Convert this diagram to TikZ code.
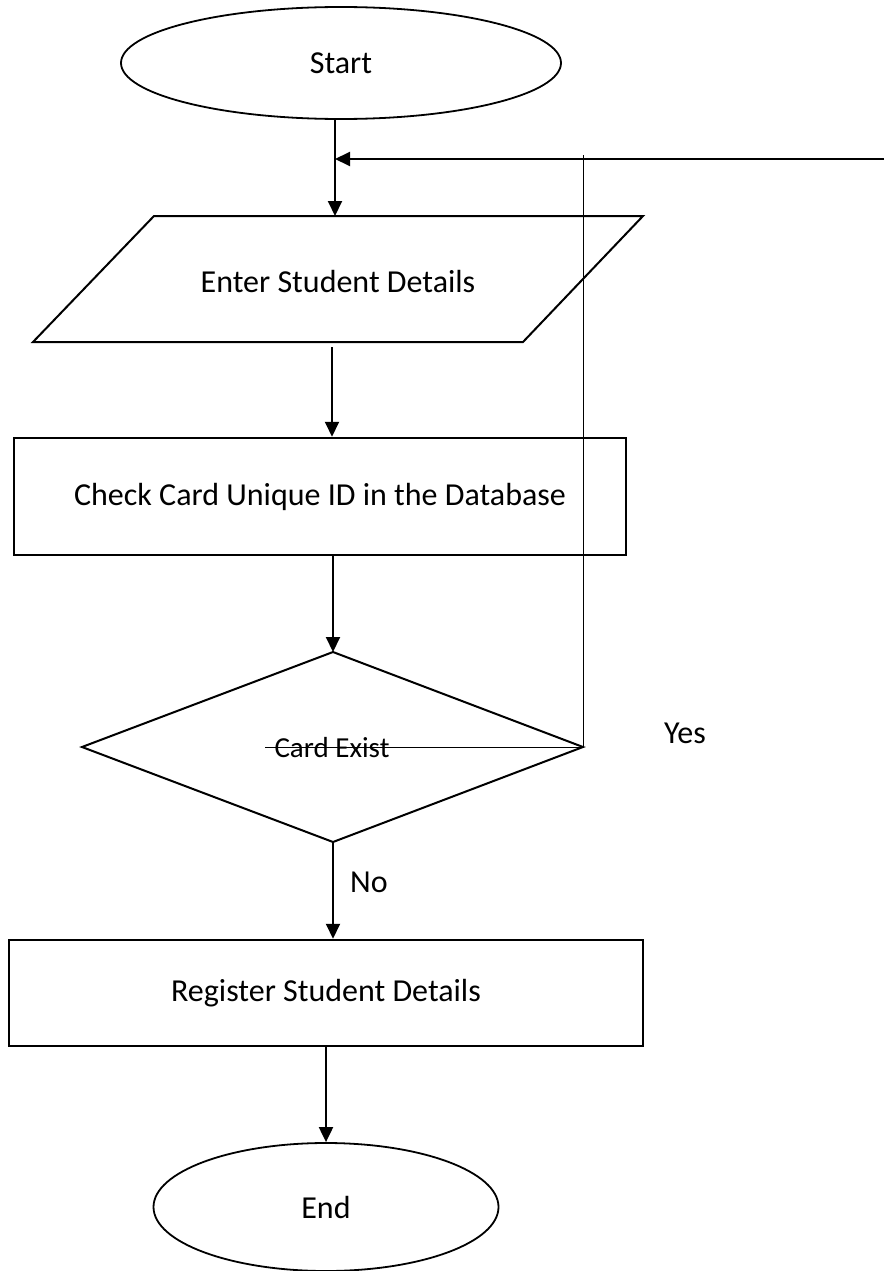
\documentclass[tikz,border=0pt]{standalone}
\usepackage{fontspec}
\setmainfont{Carlito}
\usetikzlibrary{arrows.meta,shapes.geometric}
\begin{document}
\begin{tikzpicture}[x=1pt,y=-1pt,
  shape line/.style={draw=black,line width=2pt,line join=miter},
  term/.style={ellipse,draw,line width=1.8pt,inner sep=0pt},
  proc/.style={rectangle,draw,line width=2.5pt,inner sep=0pt},
  lbl/.style={font=\fontsize{32}{38}\selectfont,inner sep=0pt},
  small lbl/.style={font=\fontsize{29}{34}\selectfont,inner sep=0pt},
  arr/.style={line width=2pt,-{Triangle[length=15pt,width=14pt]}},
  thin line/.style={line width=1pt}]
\useasboundingbox (0,0) rectangle (884,1271);

% Start
\node[term,lbl,minimum width=440pt,minimum height=112pt] (start) at (341,63) {Start};

% Parallelogram
\draw[shape line] (154,216) -- (643,216) -- (523,342) -- (33,342) -- cycle;
\coordinate (ptop) at (335,216);
\coordinate (pbot) at (332,342);
\node[lbl] (enter) at (338,282) {Enter Student Details};

% Check
\node[proc,lbl,minimum width=612pt,minimum height=117pt] (check) at (320,496.5) {Check Card Unique ID in the Database};

% Diamond
\coordinate (dtop) at (333,652);
\coordinate (dleft) at (82,747);
\coordinate (dright) at (583,747);
\coordinate (dbot) at (333,842);
\draw[shape line] (dtop) -- (dright) -- (dbot) -- (dleft) -- cycle;
\node[small lbl] (exist) at (332,748) {Card Exist};

% Register
\node[proc,lbl,minimum width=634pt,minimum height=106pt] (reg) at (326,993) {Register Student Details};

% End
\node[term,lbl,minimum width=345pt,minimum height=128pt] (endn) at (326,1207) {End};

% Labels
\node[lbl] (yes) at (685,733) {Yes};
\node[lbl] (no) at (369,882) {No};

% Loop lines
\coordinate (strikeL) at (265,747);
\coordinate (loopTop) at (583,155);
\coordinate (rightEnd) at (884,159);
\coordinate (joinPt) at (335,159);
\draw[thin line] (strikeL) -- (dright);
\draw[thin line] (dright) -- (loopTop);
\draw[arr] (rightEnd) -- (joinPt);

% Main connectors
\draw[arr] (start.south -| ptop) -- (ptop);
\draw[arr,shorten <=5pt] (pbot) -- (check.north -| pbot);
\draw[arr] (check.south -| dtop) -- (dtop);
\draw[arr] (dbot) -- (reg.north -| dbot);
\draw[arr] (reg.south -| endn.north) -- (endn.north);
\end{tikzpicture}
\end{document}
